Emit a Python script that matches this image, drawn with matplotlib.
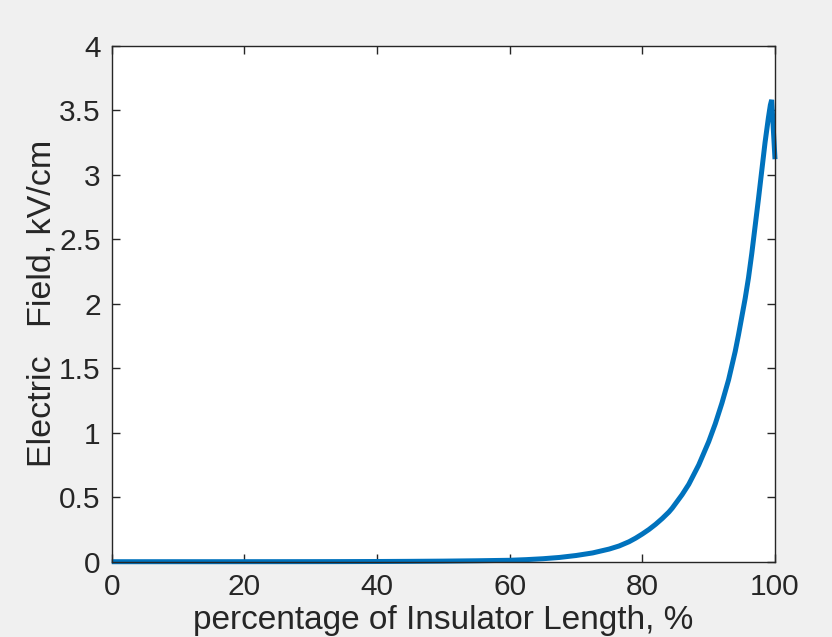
import matplotlib.pyplot as plt

# field along the insulator, read at selected positions
position_pct = [0, 5, 10, 15, 20, 25, 30, 35, 40, 45, 50, 55, 60,
                62.5, 65, 67.5, 70, 72.5, 75, 76.5, 78, 79, 80, 81, 82, 83, 84,
                84.5, 85, 85.5, 86, 86.5, 87, 87.5, 88, 88.5, 89, 89.5, 90,
                90.5, 91, 91.5, 92, 92.5, 93, 93.5, 94, 94.5, 95, 95.5, 96,
                96.5, 97, 97.5, 98, 98.5, 99, 99.3, 99.5, 100]
field_kv_cm = [0.0, 0.0, 0.0001, 0.0001, 0.0002, 0.0003, 0.0005, 0.0009,
               0.0016, 0.0028, 0.0045, 0.0072, 0.011,
               0.016, 0.023, 0.033, 0.048, 0.068, 0.098, 0.122, 0.155, 0.183, 0.215,
               0.25, 0.29, 0.335, 0.385,
               0.415, 0.45, 0.485, 0.52, 0.56, 0.60, 0.65, 0.70, 0.75, 0.81, 0.87, 0.93,
               1.00, 1.07, 1.15, 1.23, 1.32, 1.41, 1.52, 1.63, 1.76, 1.90, 2.04, 2.20,
               2.39, 2.60, 2.81, 3.03, 3.25, 3.44, 3.54, 3.58, 3.12]

x_ticks = [0, 20, 40, 60, 80, 100]
y_ticks = [0, 0.5, 1, 1.5, 2, 2.5, 3, 3.5, 4]
y_tick_labels = ["0", "0.5", "1", "1.5", "2", "2.5", "3", "3.5", "4"]

plt.rcParams['font.family'] = ['Liberation Sans', 'DejaVu Sans']

fig = plt.figure(figsize=(8.32, 6.37), dpi=100, facecolor='#f0f0f0')
ax = fig.add_axes([0.1343, 0.1182, 0.7972, 0.8101])

ax.plot(position_pct, field_kv_cm, color='#0072bd', linewidth=3.6,
        solid_joinstyle='miter', solid_capstyle='butt', clip_on=False)

ax.set_xlim(0, 100)
ax.set_ylim(0, 4)
ax.set_xticks(x_ticks)
ax.set_yticks(y_ticks)
ax.set_yticklabels(y_tick_labels)

ax.tick_params(direction='in', length=6, width=1, color='#262626',
               top=True, right=True, labelsize=21.5, labelcolor='#262626', pad=8)
for s in ax.spines.values():
    s.set_color('#262626')
    s.set_linewidth(1)

ax.set_xlabel("percentage of Insulator Length, %", fontsize=24, color='#262626', labelpad=3)
ax.set_ylabel("Electric   Field, kV/cm", fontsize=24.5, color='#262626', labelpad=1)

fig.savefig("out.png", dpi=100, facecolor=fig.get_facecolor())
